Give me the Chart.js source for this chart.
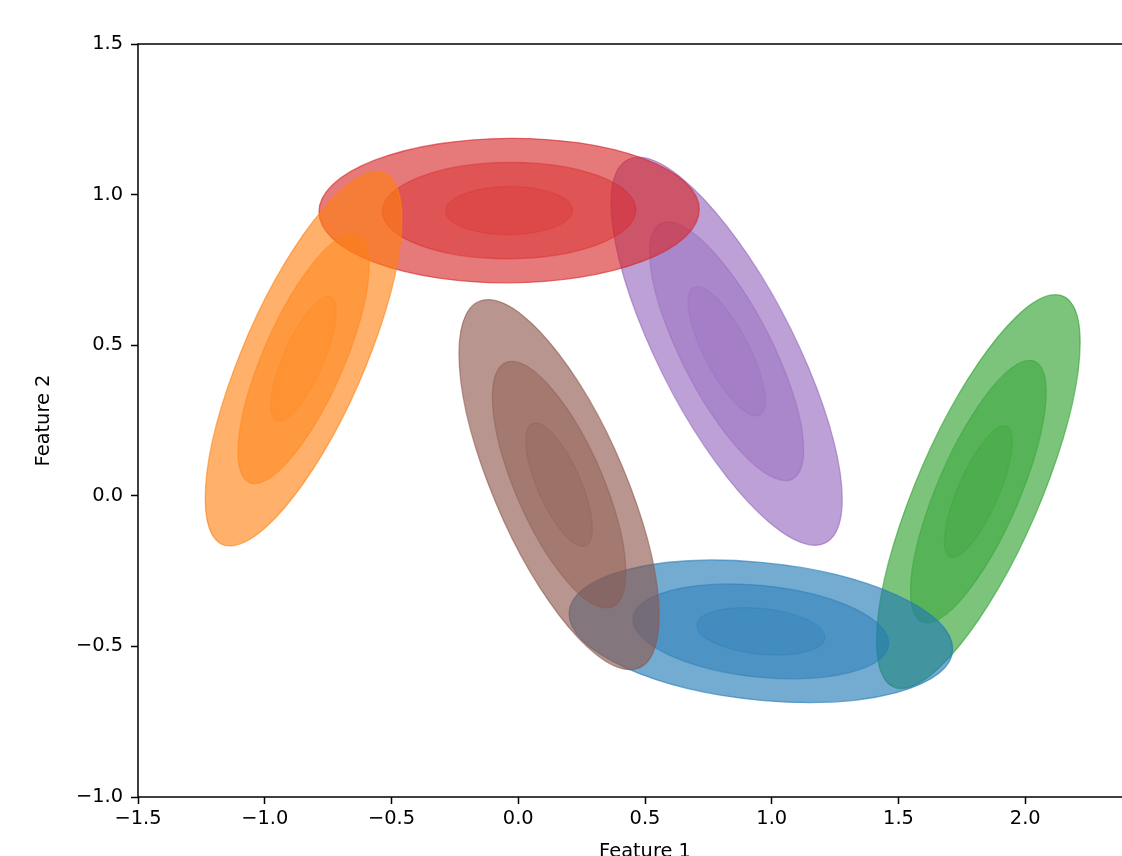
<!DOCTYPE html>
<html>
<head>
<meta charset="utf-8">
<title>Gaussian mixture components</title>
<script src="https://cdn.jsdelivr.net/npm/chart.js@4.4.1/dist/chart.umd.min.js"></script>
<style>
  html, body { margin: 0; padding: 0; background: #fff; overflow: hidden; }
  #wrap { position: absolute; left: 0; top: 0; width: 1300px; height: 900px; }
</style>
</head>
<body>
<div id="wrap"><canvas id="gmmChart"></canvas></div>
<script>
// GMM components, listed in paint order (later ones sit on top)
const componentNames = ['Component A', 'Component B', 'Component C', 'Component D', 'Component E', 'Component F'];
const meanX = [1.815, 0.957, 0.161, 0.822, -0.036, -0.847];
const meanY = [0.014, -0.450, 0.037, 0.480, 0.947, 0.455];
const covXX = [0.0179, 0.0636, 0.0173, 0.0231, 0.0625, 0.0167];
const covXY = [0.0221, -0.0049, -0.0191, -0.0249, 0.0003, 0.0200];
const covYY = [0.0475, 0.0062, 0.0419, 0.0461, 0.0064, 0.0429];
const sigmaLevels = [3, 2, 1];
const xTicks = [-1.5, -1.0, -0.5, 0.0, 0.5, 1.0, 1.5, 2.0, 2.5];
const yTicks = [-1.0, -0.5, 0.0, 0.5, 1.0, 1.5];

// styles
const componentColors = ['#2ca02c', '#1f77b4', '#8c564b', '#9467bd', '#d62728', '#ff7f0e'];
const levelAlpha = { 3: 0.62, 2: 0.45, 1: 0.25 };

function rgba(hex, a) {
    const n = parseInt(hex.slice(1), 16);
    return 'rgba(' + (n >> 16) + ',' + ((n >> 8) & 255) + ',' + (n & 255) + ',' + a + ')';
}
const fmt = v => Number(v).toFixed(1).replace('-', '\u2212');
const font = { family: 'DejaVu Sans', size: 19.4 };

// draws the 1/2/3 sigma ellipses of every component through the scales
const ellipsePlugin = {
    id: 'gmmEllipses',
    beforeDatasetsDraw(chart) {
        const { ctx, chartArea: a, scales: { x, y } } = chart;
        const sx = x.getPixelForValue(1) - x.getPixelForValue(0);
        const sy = y.getPixelForValue(0) - y.getPixelForValue(1);
        ctx.save();
        ctx.beginPath();
        ctx.rect(a.left, a.top, a.right - a.left, a.bottom - a.top);
        ctx.clip();
        chart.data.datasets.forEach(ds => {
            const p = ds.data[0];
            const c = ds.cov;
            // cholesky factor of the covariance
            const l11 = Math.sqrt(c.xx);
            const l21 = c.xy / l11;
            const l22 = Math.sqrt(c.yy - l21 * l21);
            const cx = x.getPixelForValue(p.x);
            const cy = y.getPixelForValue(p.y);
            sigmaLevels.forEach(n => {
                ctx.save();
                ctx.transform(n * l11 * sx, -n * l21 * sy, 0, -n * l22 * sy, cx, cy);
                ctx.beginPath();
                ctx.arc(0, 0, 1, 0, Math.PI * 2);
                ctx.restore();
                ctx.fillStyle = rgba(ds.baseColor, levelAlpha[n]);
                ctx.fill();
                ctx.strokeStyle = rgba(ds.baseColor, levelAlpha[n]);
                ctx.lineWidth = 1.3;
                ctx.stroke();
            });
        });
        ctx.restore();
    }
};

// box around the axes, like matplotlib spines
const framePlugin = {
    id: 'frame',
    afterDraw(chart) {
        const { ctx, chartArea: a } = chart;
        ctx.save();
        ctx.strokeStyle = '#000';
        ctx.lineWidth = 1.5;
        ctx.strokeRect(a.left, a.top, a.right - a.left, a.bottom - a.top);
        ctx.restore();
    }
};

const datasets = componentNames.map((name, i) => ({
    label: name,
    data: [{ x: meanX[i], y: meanY[i] }],
    cov: { xx: covXX[i], xy: covXY[i], yy: covYY[i] },
    baseColor: componentColors[i],
    backgroundColor: rgba(componentColors[i], 0.6),
    borderColor: rgba(componentColors[i], 0.6),
    pointRadius: 0,
    pointHoverRadius: 0
}));

const axisGrid = {
    display: true,
    drawOnChartArea: false,
    drawTicks: true,
    tickLength: 7,
    color: '#000',
    tickColor: '#000',
    tickWidth: 1.5
};

new Chart(document.getElementById('gmmChart'), {
    type: 'scatter',
    data: { datasets: datasets },
    plugins: [ellipsePlugin, framePlugin],
    options: {
        responsive: true,
        maintainAspectRatio: false,
        animation: false,
        layout: { padding: { left: 0, top: 44, right: 148, bottom: 0 } },
        plugins: {
            legend: { display: false },
            tooltip: { enabled: false }
        },
        scales: {
            x: {
                type: 'linear',
                min: -1.5,
                max: 2.5,
                afterBuildTicks: s => { s.ticks = xTicks.map(v => ({ value: v })); },
                afterFit: s => { s.height = 103; },
                ticks: { font: font, color: '#000', padding: 3, maxRotation: 0, callback: v => fmt(v) },
                grid: axisGrid,
                border: { display: false },
                title: { display: true, text: 'Feature 1', font: font, color: '#000', padding: { top: 0, bottom: 36 } }
            },
            y: {
                type: 'linear',
                min: -1.0,
                max: 1.5,
                afterBuildTicks: s => { s.ticks = yTicks.map(v => ({ value: v })); },
                afterFit: s => { s.width = 138; },
                ticks: { font: font, color: '#000', padding: 8, callback: v => fmt(v) },
                grid: axisGrid,
                border: { display: false },
                title: { display: true, text: 'Feature 2', font: font, color: '#000', padding: { top: 32, bottom: 0 } }
            }
        }
    }
});
</script>
</body>
</html>
